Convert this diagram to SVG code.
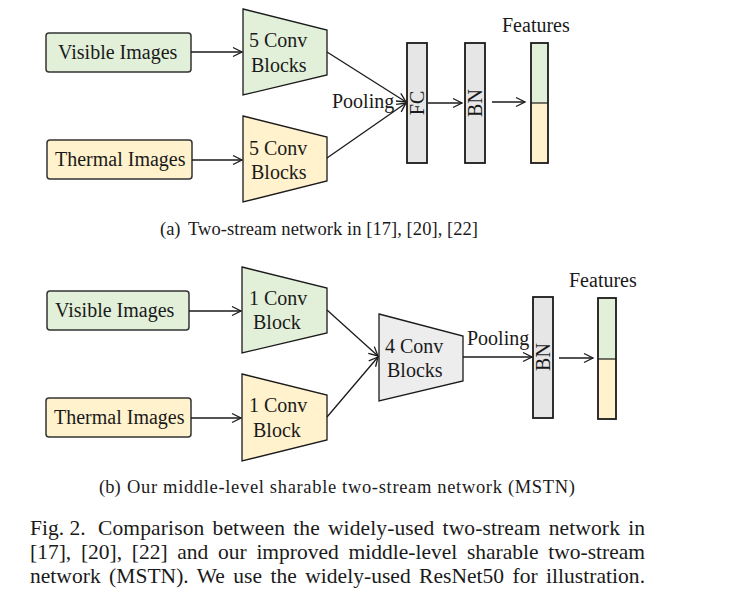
<svg xmlns="http://www.w3.org/2000/svg" width="753" height="597" viewBox="0 0 753 597">
<defs>
<marker id="ah" markerUnits="userSpaceOnUse" markerWidth="12" markerHeight="12" refX="10" refY="5" orient="auto" viewBox="0 0 12 10">
<path d="M1,0.5 L10,5 L1,9.5" fill="none" stroke="#1a1a1a" stroke-width="1.3"/>
</marker>
</defs>
<style>
text{font-family:"Liberation Serif","Times New Roman",serif;fill:#1a1a1a}
.lbl{font-size:20px}
.cap{font-size:18.5px}
.fig{font-size:21.5px}
.box{stroke:#333;stroke-width:1.5}
.trap{stroke:#1a1a1a;stroke-width:1.3}
.bar{stroke:#1a1a1a;stroke-width:1.8}
.g{fill:#e2f0d9}
.y{fill:#fff2cc}
.gr{fill:#e7e6e6}
.con{fill:none;stroke:#1a1a1a;stroke-width:1.3;marker-end:url(#ah)}
</style>
<rect width="753" height="597" fill="#fff"/>

<!-- (a) -->
<g id="a-visible"><rect class="box g" x="46" y="33" width="145" height="39" rx="3"/><text class="lbl" x="58" y="59">Visible Images</text></g>
<g id="a-thermal"><rect class="box y" x="47" y="140" width="145" height="39" rx="3"/><text class="lbl" x="55" y="166">Thermal Images</text></g>
<g id="a-conv1"><polygon class="trap g" points="243,9 327,30 327,75 243,95"/><text class="lbl" x="249" y="47">5 Conv</text><text class="lbl" x="251" y="72">Blocks</text></g>
<g id="a-conv2"><polygon class="trap y" points="243,116 327,137 327,181 243,202"/><text class="lbl" x="249" y="155">5 Conv</text><text class="lbl" x="251" y="179">Blocks</text></g>
<g id="a-fc"><rect class="bar gr" x="407" y="43" width="20" height="120"/><text class="lbl" transform="translate(424,103) rotate(-90)" text-anchor="middle">FC</text></g>
<g id="a-bn"><rect class="bar gr" x="465" y="43" width="20" height="120"/><text class="lbl" transform="translate(482,103) rotate(-90)" text-anchor="middle">BN</text></g>
<g id="a-feat"><rect class="g" x="531" y="43" width="17" height="60"/><rect class="y" x="531" y="103" width="17" height="60"/><rect x="531" y="43" width="17" height="120" fill="none" class="bar"/><line x1="531" y1="103" x2="548" y2="103" stroke="#1a1a1a" stroke-width="1.2"/><text class="lbl" x="502" y="32">Features</text></g>
<text class="lbl" x="332" y="108">Pooling</text>

<!-- (b) -->
<g id="b-visible"><rect class="box g" x="47" y="291" width="142" height="39" rx="3"/><text class="lbl" x="55" y="317">Visible Images</text></g>
<g id="b-thermal"><rect class="box y" x="46" y="398" width="145" height="39" rx="3"/><text class="lbl" x="54" y="424">Thermal Images</text></g>
<g id="b-conv1"><polygon class="trap g" points="242,267 327,288 327,333 242,353"/><text class="lbl" x="249" y="305">1 Conv</text><text class="lbl" x="253" y="329">Block</text></g>
<g id="b-conv2"><polygon class="trap y" points="242,374 327,395 327,440 242,461"/><text class="lbl" x="249" y="412">1 Conv</text><text class="lbl" x="253" y="437">Block</text></g>
<g id="b-conv4"><polygon class="trap" fill="#ededed" points="379,314 463,336 463,381 379,401"/><text class="lbl" x="385" y="353">4 Conv</text><text class="lbl" x="387" y="377">Blocks</text></g>
<g id="b-bn"><rect class="bar gr" x="533" y="297" width="20" height="121"/><text class="lbl" transform="translate(550,357) rotate(-90)" text-anchor="middle">BN</text></g>
<g id="b-feat"><rect class="g" x="598" y="298" width="18" height="61"/><rect class="y" x="598" y="359" width="18" height="60"/><rect x="598" y="298" width="18" height="121" fill="none" class="bar"/><line x1="598" y1="359" x2="616" y2="359" stroke="#1a1a1a" stroke-width="1.2"/><text class="lbl" x="569" y="287">Features</text></g>
<text class="lbl" x="467" y="345">Pooling</text>

<g id="connectors">
<line class="con" x1="191" y1="52" x2="242" y2="52"/>
<line class="con" x1="192" y1="160" x2="242" y2="160"/>
<line class="con" x1="327" y1="52" x2="406" y2="102"/>
<line class="con" x1="327" y1="158" x2="406" y2="103"/>
<line class="con" x1="428" y1="103" x2="462" y2="103"/>
<line class="con" x1="492" y1="102" x2="525" y2="102"/>
<line class="con" x1="189" y1="311" x2="241" y2="311"/>
<line class="con" x1="191" y1="418" x2="241" y2="418"/>
<line class="con" x1="327" y1="310" x2="378" y2="356"/>
<line class="con" x1="327" y1="417" x2="378" y2="357"/>
<line class="con" x1="463" y1="357" x2="532" y2="357"/>
<line class="con" x1="559" y1="358" x2="593" y2="358"/>
</g>

<text class="cap" x="160" y="235">(a)</text>
<text class="cap" x="188" y="235" textLength="290" lengthAdjust="spacing">Two-stream network in [17], [20], [22]</text>
<text class="cap" x="99" y="493">(b)</text>
<text class="cap" x="127" y="493" textLength="448" lengthAdjust="spacing">Our middle-level sharable two-stream network (MSTN)</text>

<text class="fig" x="30" y="535">Fig. 2.</text>
<text class="fig" x="98" y="535" word-spacing="2.6" textLength="547" lengthAdjust="spacing">Comparison between the widely-used two-stream network in</text>
<text class="fig" x="30" y="559" word-spacing="4.3" textLength="615" lengthAdjust="spacing">[17], [20], [22] and our improved middle-level sharable two-stream</text>
<text class="fig" x="30" y="583" word-spacing="3" textLength="615" lengthAdjust="spacing">network (MSTN). We use the widely-used ResNet50 for illustration.</text>
</svg>
